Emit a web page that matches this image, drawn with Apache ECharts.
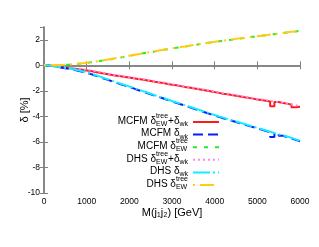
<!DOCTYPE html>
<html>
<head>
<meta charset="utf-8">
<script src="https://cdn.jsdelivr.net/npm/echarts@6/dist/echarts.min.js"></script>
<style>html,body{margin:0;padding:0;background:#fff}#c{width:319px;height:247px}</style>
</head>
<body>
<div id="c"></div>
<script>
// bin edges in GeV (lower edges of 100 GeV bins, last entry is the upper edge)
const binEdges = [0,100,200,300,400,500,600,700,800,900,1000,1100,1200,1300,1400,1500,1600,1700,1800,1900,
  2000,2100,2200,2300,2400,2500,2600,2700,2800,2900,3000,3100,3200,3300,3400,3500,3600,3700,3800,3900,
  4000,4100,4200,4300,4400,4500,4600,4700,4800,4900,5000,5100,5200,5300,5400,5500,5600,5700,5800,5900,6000];

const mcfmTreeWk = [-0.02,-0.06,-0.10,-0.15,-0.19,-0.23,-0.26,-0.30,-0.35,-0.40,
  -0.45,-0.52,-0.58,-0.65,-0.70,-0.76,-0.81,-0.86,-0.91,-0.96,
  -1.01,-1.07,-1.12,-1.17,-1.23,-1.29,-1.34,-1.39,-1.46,-1.52,
  -1.57,-1.63,-1.69,-1.74,-1.80,-1.86,-1.92,-1.98,-2.04,-2.10,
  -2.16,-2.22,-2.27,-2.33,-2.38,-2.44,-2.50,-2.55,-2.61,-2.67,
  -2.72,-2.77,-2.83,-3.20,-2.88,-2.95,-3.00,-3.08,-3.28,-3.24];
const mcfmWk = [-0.02,-0.06,-0.11,-0.17,-0.23,-0.29,-0.35,-0.42,-0.50,-0.59,
  -0.69,-0.80,-0.91,-1.03,-1.14,-1.26,-1.37,-1.48,-1.59,-1.70,
  -1.81,-1.93,-2.04,-2.15,-2.27,-2.38,-2.49,-2.60,-2.72,-2.83,
  -2.94,-3.05,-3.16,-3.27,-3.38,-3.49,-3.60,-3.71,-3.82,-3.93,
  -4.04,-4.14,-4.24,-4.34,-4.44,-4.54,-4.64,-4.74,-4.84,-4.94,
  -5.04,-5.14,-5.24,-5.62,-5.30,-5.52,-5.62,-5.72,-5.84,-5.96];
const mcfmTree = [0.00,0.00,0.01,0.02,0.04,0.06,0.09,0.12,0.15,0.19,
  0.24,0.28,0.33,0.38,0.44,0.50,0.56,0.62,0.68,0.74,
  0.80,0.86,0.92,0.98,1.04,1.09,1.15,1.21,1.26,1.31,
  1.37,1.42,1.47,1.53,1.58,1.63,1.68,1.73,1.78,1.83,
  1.88,1.92,1.97,2.01,2.06,2.10,2.14,2.19,2.23,2.27,
  2.31,2.35,2.40,2.44,2.48,2.52,2.57,2.61,2.65,2.70];
const dhsTreeWk = [-0.01,-0.04,-0.08,-0.12,-0.16,-0.20,-0.23,-0.27,-0.31,-0.36,
  -0.41,-0.47,-0.53,-0.60,-0.66,-0.72,-0.77,-0.82,-0.87,-0.92,
  -0.97,-1.03,-1.08,-1.13,-1.19,-1.25,-1.30,-1.35,-1.42,-1.48,
  -1.53,-1.59,-1.65,-1.70,-1.76,-1.82,-1.88,-1.94,-2.00,-2.06,
  -2.12,-2.18,-2.23,-2.29,-2.34,-2.40,-2.46,-2.51,-2.57,-2.63,
  -2.68,-2.73,-2.79,-2.84,-2.89,-2.94,-3.00,-3.05,-3.12,-3.20];
const dhsWk = [-0.01,-0.04,-0.09,-0.14,-0.20,-0.26,-0.32,-0.38,-0.46,-0.55,
  -0.65,-0.76,-0.87,-0.99,-1.10,-1.22,-1.33,-1.44,-1.55,-1.66,
  -1.77,-1.89,-2.00,-2.11,-2.23,-2.34,-2.45,-2.56,-2.68,-2.79,
  -2.90,-3.01,-3.12,-3.23,-3.34,-3.45,-3.56,-3.67,-3.78,-3.89,
  -4.00,-4.10,-4.20,-4.30,-4.40,-4.50,-4.60,-4.70,-4.80,-4.90,
  -5.00,-5.10,-5.20,-5.30,-5.40,-5.49,-5.58,-5.68,-5.80,-5.92];
const dhsTree = [0.00,0.01,0.02,0.03,0.05,0.07,0.10,0.13,0.16,0.20,
  0.25,0.29,0.34,0.39,0.45,0.51,0.57,0.63,0.69,0.75,
  0.81,0.87,0.93,0.99,1.05,1.10,1.16,1.22,1.27,1.32,
  1.38,1.43,1.48,1.54,1.59,1.64,1.69,1.74,1.79,1.84,
  1.89,1.93,1.98,2.02,2.07,2.11,2.15,2.20,2.24,2.28,
  2.32,2.36,2.41,2.45,2.49,2.53,2.58,2.62,2.66,2.72];

const xTicks = [0,1000,2000,3000,4000,5000,6000];
const yTicks = [-10,-8,-6,-4,-2,0,2];

const FONT = '"Liberation Sans", Arial, sans-serif';

function toSteps(vals){
  const pts = vals.map((v,i)=>[binEdges[i], v]);
  pts.push([binEdges[binEdges.length-1], vals[vals.length-1]]);
  return pts;
}

const seriesDefs = [
  {name:'MCFM tree+wk', data:mcfmTreeWk, color:'#ff1a1a', dash:'solid'},
  {name:'MCFM wk', data:mcfmWk, color:'#0a1aff', dash:[10,5]},
  {name:'MCFM tree', data:mcfmTree, color:'#22ee22', dash:[4,7]},
  {name:'DHS tree+wk', data:dhsTreeWk, color:'#ff88ee', dash:[2,3]},
  {name:'DHS wk', data:dhsWk, color:'#11eeff', dash:[17,3,2,3]},
  {name:'DHS tree', data:dhsTree, color:'#ffcc11', dash:[2,5,14,5]}
];

const legendRows = [
  [{t:'MCFM δ'},{sup:'tree',sub:'EW'},{t:'+δ'},{sub:'wk'}],
  [{t:'MCFM δ'},{sub:'wk'}],
  [{t:'MCFM δ'},{sup:'tree',sub:'EW'}],
  [{t:'DHS δ'},{sup:'tree',sub:'EW'},{t:'+δ'},{sub:'wk'}],
  [{t:'DHS δ'},{sub:'wk'}],
  [{t:'DHS δ'},{sup:'tree',sub:'EW'}]
];

const mctx = document.createElement('canvas').getContext('2d');
function tw(t,size){ mctx.font = size+'px '+FONT; return mctx.measureText(t).width; }

function txt(x, top, text, size){
  return {type:'text', x:x, y:top, z:100,
    style:{text:text, font:size+'px '+FONT, fill:'#000',
      textAlign:'left', align:'left', textVerticalAlign:'top', verticalAlign:'top'}};
}

const graphics = [];
const textRight = 188, lineX1 = 193, lineX2 = 219, row0 = 121.5, rowStep = 12.6;
const mainSize = 10, smallSize = 7;
legendRows.forEach((parts,r)=>{
  const y = row0 + r*rowStep;
  let x = textRight;
  for (let i=parts.length-1;i>=0;i--){
    const p = parts[i];
    if (p.t){
      const w = tw(p.t, mainSize); x -= w;
      graphics.push(txt(x, y - mainSize/2 - 0.5, p.t, mainSize));
    } else {
      const w = Math.max(p.sup?tw(p.sup,smallSize):0, tw(p.sub,smallSize)); x -= w;
      if (p.sup) graphics.push(txt(x, y - 5.5 - smallSize/2, p.sup, smallSize));
      graphics.push(txt(x, y + 2.5 - smallSize/2, p.sub, smallSize));
    }
  }
  const s = seriesDefs[r];
  graphics.push({type:'line', z:100, shape:{x1:lineX1,y1:y+0.5,x2:lineX2,y2:y+0.5}, style:{stroke:s.color, lineWidth:2, lineDash:s.dash==='solid'?null:s.dash}});
});

const axisColor = '#808080';
const chart = echarts.init(document.getElementById('c'), null, {renderer:'canvas'});
chart.setOption({
  animation:false,
  backgroundColor:'#fff',
  grid:{left:44, right:19, top:27, bottom:54, containLabel:false},
  xAxis:[
    {type:'value', min:0, max:6000, interval:1000, position:'bottom',
     name:'M(j₁j₂) [GeV]', nameLocation:'middle', nameGap:14, nameMoveOverlap:false,
     nameTextStyle:{fontFamily:FONT, fontSize:11, color:'#000', verticalAlign:'top'},
     axisLine:{show:true, lineStyle:{color:axisColor, width:1.5}},
     axisTick:{show:true, inside:true, length:4, lineStyle:{color:axisColor}},
     axisLabel:{fontFamily:FONT, fontSize:8.5, color:'#000', margin:4, formatter:v=>xTicks.includes(v)?String(v):''},
     splitLine:{show:false}},
    {type:'value', min:0, max:6000, interval:1000, position:'top',
     axisLine:{show:true, lineStyle:{color:axisColor, width:1.5}},
     axisTick:{show:true, inside:true, length:4, lineStyle:{color:axisColor}},
     axisLabel:{show:false}, splitLine:{show:false}}
  ],
  yAxis:[
    {type:'value', min:-10, max:3, interval:2, position:'left',
     name:'δ [%]', nameLocation:'middle', nameGap:14, nameMoveOverlap:false,
     nameTextStyle:{fontFamily:FONT, fontSize:11, color:'#000'},
     axisLine:{show:true, lineStyle:{color:axisColor, width:1.5}},
     axisTick:{show:true, inside:true, length:4, lineStyle:{color:axisColor}},
     axisLabel:{fontFamily:FONT, fontSize:8.5, color:'#000', margin:4, showMaxLabel:false, formatter:v=>yTicks.includes(v)?String(v):''},
     splitLine:{show:false}},
    {type:'value', min:-10, max:3, interval:2, position:'right',
     axisLine:{show:true, lineStyle:{color:axisColor, width:1.5}},
     axisTick:{show:true, inside:true, length:4, lineStyle:{color:axisColor}},
     axisLabel:{show:false}, splitLine:{show:false}}
  ],
  series: seriesDefs.map((s,i)=>({
    name:s.name, type:'line', step:'end', xAxisIndex:0, yAxisIndex:0,
    data: toSteps(s.data), showSymbol:false, symbol:'none', z:2+i,
    lineStyle:{color:s.color, width:2, type:s.dash}
  })),
  graphic: graphics
});
</script>
</body>
</html>
